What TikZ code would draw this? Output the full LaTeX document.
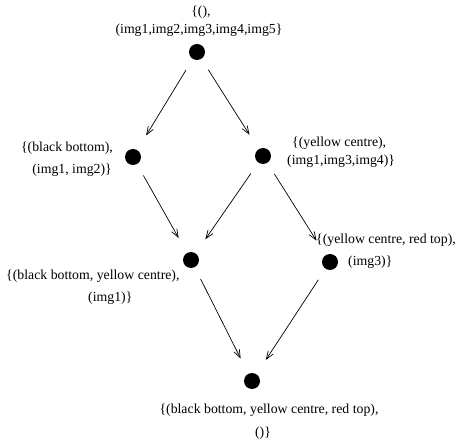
\documentclass[tikz,border=0pt]{standalone}
\usepackage{fontspec}
\setmainfont{Liberation Serif}
\usetikzlibrary{arrows.meta}
\begin{document}
\begin{tikzpicture}[x=1pt,y=-1pt,
  dot/.style={circle,fill=black,minimum size=16pt,inner sep=0pt},
  lbl/.style={inner sep=0pt,font=\fontsize{13.8}{15}\selectfont},
  conn/.style={-{Straight Barb[length=8pt,width=6pt]},line width=0.7pt,shorten <=13pt,shorten >=17pt}]
\useasboundingbox (0,0) rectangle (463,443);
\node[dot] (t) at (197,52) {};
\node[dot] (l) at (133,157) {};
\node[dot] (r) at (263,156) {};
\node[dot] (ml) at (191,260) {};
\node[dot] (lr) at (330,262) {};
\node[dot] (b) at (252,381) {};
\draw[conn] (t) -- (l);
\draw[conn] (t) -- (r);
\draw[conn] (l) -- (ml);
\draw[conn] (r) -- (ml);
\draw[conn] (r) -- (lr);
\draw[conn] (ml) -- (b);
\draw[conn] (lr) -- (b);
\node[lbl] (t1) at (201,12) {\{(),};
\node[lbl] (t2) at (199,30) {(img1,img2,img3,img4,img5\}};
\node[lbl,anchor=east] (l1) at (113,148) {\{(black bottom),};
\node[lbl,anchor=east] (l2) at (112,170) {(img1, img2)\}};
\node[lbl,anchor=west] (r1) at (292,143) {\{(yellow centre),};
\node[lbl,anchor=west] (r2) at (287,161) {(img1,img3,img4)\}};
\node[lbl,anchor=west] (ml1) at (6,276) {\{(black bottom, yellow centre),};
\node[lbl,anchor=west] (ml2) at (88,298) {(img1)\}};
\node[lbl,anchor=west] (lr1) at (316,240) {\{(yellow centre, red top),};
\node[lbl,anchor=west] (lr2) at (348,262) {(img3)\}};
\node[lbl] (b1) at (269,410) {\{(black bottom, yellow centre, red top),};
\node[lbl] (b2) at (263,433) {()\}};
\end{tikzpicture}
\end{document}
